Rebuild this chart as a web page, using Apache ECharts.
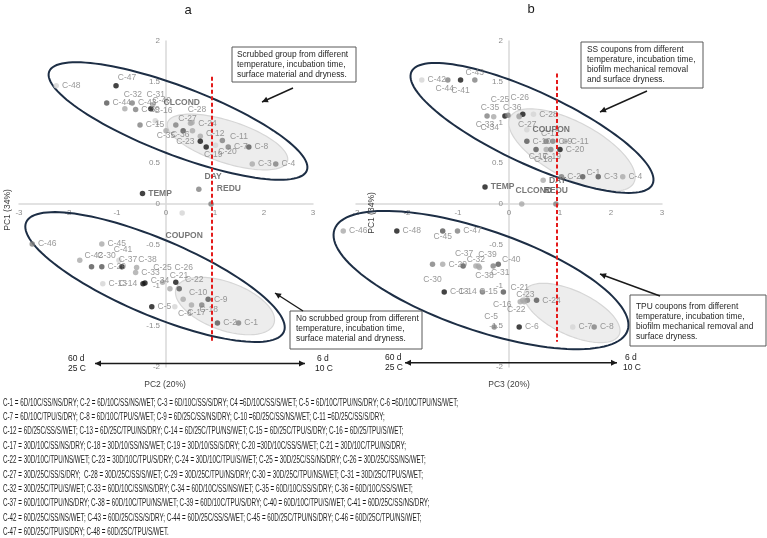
<!DOCTYPE html>
<html><head><meta charset="utf-8">
<script src="https://cdn.jsdelivr.net/npm/echarts@6/dist/echarts.min.js"></script>
<style>html,body{margin:0;padding:0;background:#fff}#c{width:767px;height:538px}</style>
</head><body><div id="c"></div>
<script>
// ================= DATA =================
// Panel a: PC2 (x) vs PC1 (y)
const leftSamples = ['C-48','C-47','C-44','C-43','C-32','C-39','C-40','C-31','C-15','C-16','C-35','C-36','C-27','C-28','C-24','C-12','C-23','C-19','C-20','C-11','C-7','C-8','C-3','C-4',
  'C-46','C-45','C-42','C-41','C-30','C-29','C-37','C-38','C-33','C-13','C-14','C-34','C-25','C-26','C-21','C-22','C-10','C-9','C-5','C-6','C-17','C-18','C-2','C-1'];
const leftPC2 = [-2.24,-1.02,-1.21,-0.69,-0.84,-0.62,-0.31,-0.27,-0.53,-0.22,0.00,0.35,0.50,0.53,0.54,0.70,0.70,0.82,1.01,1.15,1.27,1.69,1.76,2.24,
  -2.73,-1.31,-1.76,-0.96,-1.52,-1.31,-0.90,-0.60,-0.62,-1.29,-0.47,-0.43,-0.07,0.20,0.08,0.27,0.35,0.86,-0.29,0.18,0.52,0.73,1.05,1.48];
const leftPC1 = [1.45,1.45,1.24,1.24,1.17,1.16,1.17,1.22,0.97,1.02,0.90,0.90,0.99,1.00,0.90,0.83,0.77,0.70,0.72,0.78,0.70,0.70,0.49,0.49,
  -0.49,-0.49,-0.69,-0.69,-0.77,-0.77,-0.77,-0.78,-0.84,-0.98,-0.98,-0.97,-0.96,-0.96,-1.04,-1.04,-1.17,-1.17,-1.26,-1.26,-1.24,-1.24,-1.46,-1.46];
const leftVars = ['TEMP','DAY','REDU','COUPON','CLCOND'];
const leftVarPC2 = [-0.48,0.67,0.92,0.33,0.20];
const leftVarPC1 = [0.13,0.18,0.00,-0.11,0.97];
const leftCutPC2 = [0.94,0.94];
const leftCutPC1 = [1.56,-1.71];
const leftEllipsePC2 = [1.255,0.245,1.204,-0.224];
const leftEllipsePC1 = [0.761,1.018,-1.252,-0.896];

// Panel b: PC3 (x) vs PC1 (y)
const rightSamples = ['C-42','C-44','C-41','C-43','C-33','C-34','C-35','C-25','C-36','C-26','C-27','C-28','C-10','C-12','C-9','C-11','C-17','C-18','C-19','C-20','C-2','C-1','C-3','C-4',
  'C-46','C-48','C-45','C-47','C-30','C-29','C-37','C-32','C-39','C-38','C-31','C-40','C-13','C-14','C-15','C-21','C-23','C-24','C-16','C-22','C-5','C-6','C-7','C-8'];
const rightPC3 = [-1.71,-1.20,-0.95,-0.67,-0.43,-0.30,-0.08,-0.02,0.20,0.27,0.20,0.48,0.35,0.73,0.86,1.10,0.53,0.73,0.82,1.00,1.03,1.445,1.75,2.23,
  -3.25,-2.20,-1.30,-1.01,-1.50,-1.30,-0.90,-0.65,-0.60,-0.58,-0.31,-0.21,-1.27,-0.52,-0.11,0.27,0.36,0.54,0.22,0.30,-0.29,0.20,1.25,1.67];
const rightPC1 = [1.52,1.52,1.52,1.52,1.08,1.07,1.08,1.09,1.08,1.10,1.07,1.10,0.77,0.77,0.77,0.77,0.67,0.67,0.67,0.67,0.335,0.335,0.335,0.335,
  -0.33,-0.33,-0.33,-0.33,-0.74,-0.74,-0.76,-0.76,-0.76,-0.78,-0.76,-0.74,-1.08,-1.08,-1.08,-1.18,-1.18,-1.18,-1.20,-1.20,-1.51,-1.51,-1.51,-1.51];
const rightVars = ['TEMP','DAY','REDU','COUPON','CLCOND'];
const rightVarPC3 = [-0.47,0.67,0.92,0.35,0.25];
const rightVarPC1 = [0.21,0.29,0.00,0.91,0.00];
const rightCutPC3 = [0.935,0.935];
const rightCutPC1 = [1.60,-1.69];
const rightEllipsePC3 = [1.235,0.451,1.235,-0.549];
const rightEllipsePC1 = [0.663,0.933,-1.337,-0.933];

const xTickMin = -3, xTickMax = 3, xTickStep = 1;
const yTickMin = -2, yTickMax = 2, yTickStep = 0.5;

const footerLines = [
 'C-1 = 6D/10C/SS/NS/DRY; C-2 = 6D/10C/SS/NS/WET; C-3 = 6D/10C/SS/S/DRY; C4 =6D/10C/SS/S/WET; C-5 = 6D/10C/TPU/NS/DRY; C-6 =6D/10C/TPU/NS/WET;',
 'C-7 = 6D/10C/TPU/S/DRY; C-8 = 6D/10C/TPU/S/WET; C-9 = 6D/25C/SS/NS/DRY; C-10 =6D/25C/SS/NS/WET; C-11 =6D/25C/SS/S/DRY;',
 'C-12 = 6D/25C/SS/S/WET; C-13 = 6D/25C/TPU/NS/DRY; C-14 = 6D/25C/TPU/NS/WET; C-15 = 6D/25C/TPU/S/DRY; C-16 = 6D/25/TPU/S/WET;',
 'C-17 = 30D/10C/SS/NS/DRY; C-18 = 30D/10/SS/NS/WET; C-19 = 30D/10/SS/S/DRY; C-20 =30D/10C/SS/S/WET; C-21 = 30D/10C/TPU/NS/DRY;',
 'C-22 = 30D/10C/TPU/NS/WET; C-23 = 30D/10C/TPU/S/DRY; C-24 = 30D/10C/TPU/S/WET; C-25 = 30D/25C/SS/NS/DRY; C-26 = 30D/25C/SS/NS/WET;',
 'C-27 = 30D/25C/SS/S/DRY;  C-28 = 30D/25C/SS/S/WET; C-29 = 30D/25C/TPU/NS/DRY; C-30 = 30D/25C/TPU/NS/WET; C-31 = 30D/25C/TPU/S/WET;',
 'C-32 = 30D/25C/TPU/S/WET; C-33 = 60D/10C/SS/NS/DRY; C-34 = 60D/10C/SS/NS/WET; C-35 = 60D/10C/SS/S/DRY; C-36 = 60D/10C/SS/S/WET;',
 'C-37 = 60D/10C/TPU/NS/DRY; C-38 = 60D/10C/TPU/NS/WET; C-39 = 60D/10C/TPU/S/DRY; C-40 = 60D/10C/TPU/S/WET; C-41 = 60D/25C/SS/NS/DRY;',
 'C-42 = 60D/25C/SS/NS/WET; C-43 = 60D/25C/SS/S/DRY; C-44 = 60D/25C/SS/S/WET; C-45 = 60D/25C/TPU/NS/DRY; C-46 = 60D/25C/TPU/NS/WET;',
 'C-47 = 60D/25C/TPU/S/DRY; C-48 = 60D/25C/TPU/S/WET.'
];

// ================= STYLE =================
const SH = {k:'#141414', d:'#555555', m:'#7f7f7f', l:'#a9a9a9', v:'#d4d4d4'};
const leftShade = {'C-48':'v','C-47':'k','C-44':'d','C-43':'m','C-32':'l','C-39':'m','C-40':'k','C-31':'l','C-15':'m','C-16':'v','C-35':'l','C-36':'d','C-27':'l','C-28':'l','C-24':'l','C-12':'l','C-23':'k','C-19':'k','C-20':'v','C-11':'m','C-7':'m','C-8':'d','C-3':'l','C-4':'m',
 'C-46':'m','C-45':'l','C-42':'l','C-41':'v','C-30':'d','C-29':'d','C-37':'k','C-38':'l','C-33':'l','C-13':'v','C-14':'k','C-34':'k','C-25':'l','C-26':'k','C-21':'l','C-22':'d','C-10':'l','C-9':'d','C-5':'k','C-6':'v','C-17':'l','C-18':'m','C-2':'d','C-1':'m',
 'TEMP':'k','DAY':'m','REDU':'m','COUPON':'v','CLCOND':'m'};
const rightShade = {'C-42':'v','C-44':'m','C-41':'k','C-43':'m','C-33':'m','C-34':'l','C-35':'k','C-25':'m','C-36':'l','C-26':'k','C-27':'l','C-28':'v','C-10':'d','C-12':'m','C-9':'m','C-11':'l','C-17':'d','C-18':'l','C-19':'m','C-20':'k','C-2':'m','C-1':'d','C-3':'d','C-4':'l',
 'C-46':'l','C-48':'k','C-45':'d','C-47':'m','C-30':'m','C-29':'l','C-37':'d','C-32':'l','C-39':'l','C-38':'l','C-31':'m','C-40':'d','C-13':'k','C-14':'m','C-15':'d','C-21':'l','C-23':'m','C-24':'d','C-16':'l','C-22':'l','C-5':'m','C-6':'k','C-7':'v','C-8':'m',
 'TEMP':'k','DAY':'l','REDU':'m','COUPON':'v','CLCOND':'l'};
const leftLabel = {'C-47':['top',11,2],'C-32':['top',8,-4],'C-40':['right',-4,-8],'C-31':['top',3,0],'C-16':['top',8,0],'C-35':['bottom',0,-5],'C-36':['bottom',-3,-6],
 'C-27':['top',-3,6],'C-28':['top',5,-3],'C-24':['right',0,-7],'C-12':['right',0,-3],'C-23':['left',0,0],'C-19':['bottom',7,-3],'C-20':['bottom',12,-4],'C-11':['right',2,-4],
 'C-41':['top',4,0],'C-42':['right',-1,-5],'C-30':['right',0,-11],'C-37':['top',6,3],'C-38':['right',-4,-8],'C-14':['left',0,0],'C-34':['right',0,-2],'C-25':['top',0,-4],
 'C-26':['top',8,-4],'C-21':['top',9,-3],'C-22':['right',0,-9],'C-10':['right',0,-7],'C-6':['bottom',10,-3],'C-17':['bottom',5,-3],'C-18':['bottom',7,-6],
 'DAY':['right',0,-13],'REDU':['right',0,-15],'COUPON':['bottom',2,12],'CLCOND':['top',6,-12]};
const rightLabel = {'C-44':['bottom',-3,-2],'C-41':['bottom',0,0],'C-43':['top',0,3],'C-33':['bottom',-2,-2],'C-34':['bottom',-4,1],'C-35':['top',-15,2],'C-25':['top',-8,-5],
 'C-36':['top',-7,2],'C-26':['top',-3,-6],'C-27':['bottom',8,-2],'C-12':['top',4,3],'C-17':['bottom',2,-3],'C-18':['bottom',-3,0],'C-19':['bottom',1,-3],'C-1':['right',-2,-4],
 'C-45':['bottom',0,-4],'C-30':['bottom',0,5],'C-37':['top',1,-2],'C-32':['top',0,4],'C-39':['top',9,-1],'C-38':['bottom',5,-2],'C-31':['bottom',7,-4],'C-40':['right',-2,-5],
 'C-14':['left',0,0],'C-15':['left',0,0],'C-21':['top',-3,-2],'C-23':['top',-2,5],'C-16':['left',-3,3],'C-22':['bottom',-8,-2],'C-5':['top',-3,0],
 'CLCOND':['top',12,-3],'REDU':['top',0,-3]};
// ellipse shapes in pixels: semi-axes a,b, rotation deg, kind
const leftEllipseShape = [{a:63,b:21,r:18,k:'light'},{a:138,b:34,r:21,k:'dark'},{a:52,b:24,r:20,k:'light'},{a:140,b:38,r:23,k:'dark'}];
const rightEllipseShape = [{a:70,b:28,r:28,k:'light'},{a:133,b:36,r:25,k:'dark'},{a:52,b:22,r:25,k:'light'},{a:155,b:50,r:19,k:'dark'}];
const GRIDS = [{left:19, top:41, width:294, height:326},{left:356, top:41, width:306, height:326}];

const LBL_FONT = '"Liberation Sans Narrow","Liberation Sans",Arial,sans-serif';
const TXT_FONT = '"Liberation Sans",Arial,sans-serif';

function pointData(names, xs, ys, shade, lbl){
  return names.map((n,i)=>{
    const p = lbl[n] || ['right',0,0];
    return {name:n, value:[xs[i], ys[i]], itemStyle:{color:SH[shade[n]]},
      label:{position:p[0], offset:[p[1],p[2]]}};
  });
}
function ellipseSeries(gi, xs, ys, shapes){
  return {type:'custom', xAxisIndex:gi, yAxisIndex:gi, clip:false, z:1, silent:true,
    data: xs.map((x,i)=>[x, ys[i]]),
    renderItem:(params, api)=>{
      const c = api.coord([api.value(0), api.value(1)]);
      const e = shapes[params.dataIndex];
      const ph = e.r*Math.PI/180, pts=[];
      for(let i=0;i<120;i++){const t=i/120*2*Math.PI;
        pts.push([c[0]+e.a*Math.cos(t)*Math.cos(ph)-e.b*Math.sin(t)*Math.sin(ph),
                  c[1]+e.a*Math.cos(t)*Math.sin(ph)+e.b*Math.sin(t)*Math.cos(ph)]);}
      return {type:'polygon', shape:{points:pts},
        style: e.k==='light' ? {fill:'#ededed', stroke:'#d6d6d6', lineWidth:1.2}
                             : {fill:'none', stroke:'#1d2e45', lineWidth:2}};
    }};
}
function sampleSeries(gi, names, xs, ys, shade, lbl, cutX, cutY){
  return {type:'scatter', xAxisIndex:gi, yAxisIndex:gi, clip:false, z:3, symbolSize:5.5, silent:true,
    data: pointData(names, xs, ys, shade, lbl),
    label:{show:true, formatter:'{b}', color:'#808080', fontSize:8.5, fontFamily:LBL_FONT, distance:3},
    markLine:{silent:true, symbol:'none', label:{show:false}, z:4,
      lineStyle:{color:'#e41a1a', type:[4,2.5], width:2},
      data:[[{coord:[cutX[0],cutY[0]]},{coord:[cutX[1],cutY[1]]}]]}};
}
function varSeries(gi, names, xs, ys, shade, lbl){
  return {type:'scatter', xAxisIndex:gi, yAxisIndex:gi, clip:false, z:3, symbolSize:5.5, silent:true,
    data: pointData(names, xs, ys, shade, lbl),
    label:{show:true, formatter:'{b}', color:'#555555', fontSize:8.5, fontWeight:'bold', fontFamily:TXT_FONT, distance:3}};
}
// axes crossing at zero: shift the axes inward to the zero position of the other axis
function xAx(gi){
  const g = GRIDS[gi];
  return {type:'value', gridIndex:gi, min:xTickMin, max:xTickMax, interval:xTickStep, position:'bottom',
  offset: -g.height*(0-yTickMin)/(yTickMax-yTickMin),
  axisLine:{onZero:false, lineStyle:{color:'#d9d9d9', width:1.5}}, axisTick:{show:false}, splitLine:{show:false},
  axisLabel:{color:'#8c8c8c', fontSize:8, margin:5, fontFamily:TXT_FONT}};}
function yAx(gi){
  const g = GRIDS[gi];
  return {type:'value', gridIndex:gi, min:yTickMin, max:yTickMax, interval:yTickStep, position:'left',
  offset: -g.width*(0-xTickMin)/(xTickMax-xTickMin),
  axisLine:{onZero:false, lineStyle:{color:'#d9d9d9', width:1.5}}, axisTick:{show:false}, splitLine:{show:false},
  axisLabel:{color:'#8c8c8c', fontSize:8, margin:6, fontFamily:TXT_FONT}};}

// ---- annotation graphics ----
function arrowHead(x1,y1,x2,y2,len,hw){
  const a=Math.atan2(y2-y1,x2-x1), c=Math.cos(a), s=Math.sin(a);
  return {type:'polygon', shape:{points:[[x2,y2],[x2-len*c-hw*s,y2-len*s+hw*c],[x2-len*c+hw*s,y2-len*s-hw*c]]}, style:{fill:'#1a1a1a'}, z:10};
}
function arrow(x1,y1,x2,y2,both){
  const g=[{type:'line', shape:{x1,y1,x2,y2}, style:{stroke:'#1a1a1a', lineWidth:1.4}, z:10}, arrowHead(x1,y1,x2,y2,6,3)];
  if(both) g.push(arrowHead(x2,y2,x1,y1,6,3));
  return g;
}
function box(x,y,w,h,lines,tx,ty){
  return [{type:'rect', shape:{x,y,width:w,height:h}, style:{fill:'#fff', stroke:'#595959', lineWidth:1}, z:10},
    {type:'text', x:tx, y:ty, z:11, style:{text:lines.join('\n'), fontSize:8.4, lineHeight:10, fontFamily:TXT_FONT, fill:'#262626', verticalAlign:'top'}}];
}
function txt(x,y,t,opt){return Object.assign({type:'text', x, y, z:11, style:Object.assign({text:t, fontSize:8.5, fontFamily:TXT_FONT, fill:'#1a1a1a', verticalAlign:'middle'}, opt||{})});}

// footer scale to reference width
const cv=document.createElement('canvas').getContext('2d');
cv.font='10px "Liberation Sans"';
const footScale = 455 / cv.measureText(footerLines[0]).width;

let graphics = [];
graphics.push(txt(188,10,'a',{fontSize:13, textAlign:'center'}), txt(531,9,'b',{fontSize:13, textAlign:'center'}));
graphics.push(Object.assign(txt(8,210,'PC1 (34%)',{fontSize:8.5, textAlign:'center', fill:'#404040'}),{rotation:Math.PI/2}));
graphics.push(Object.assign(txt(372,213,'PC1 (34%)',{fontSize:8.5, textAlign:'center', fill:'#404040'}),{rotation:Math.PI/2}));
graphics.push(txt(165,385,'PC2 (20%)',{fontSize:8.5, textAlign:'center', fill:'#404040'}), txt(509,385,'PC3 (20%)',{fontSize:8.5, textAlign:'center', fill:'#404040'}));
graphics.push(...box(232,47,124,35,['Scrubbed group from different','temperature, incubation time,','surface material and dryness.'],237,50));
graphics.push(...arrow(293,88,262,102));
graphics.push(...box(290,311,132,38,['No scrubbed group from different','temperature, incubation time,','surface material and dryness.'],296,314));
graphics.push(...arrow(303,311,275,293));
graphics.push(...box(581,42,122,46,['SS coupons from different','temperature, incubation time,','biofilm mechanical removal','and surface dryness.'],587,45));
graphics.push(...arrow(647,91,600,112));
graphics.push(...box(630,295,136,51,['TPU coupons from different','temperature, incubation time,','biofilm mechanical removal and','surface dryness.'],636,302));
graphics.push(...arrow(660,296,600,274));
graphics.push(...arrow(95,363.5,305,363.5,true), ...arrow(405,362.7,617,362.7,true));
graphics.push(txt(68,359,'60 d'), txt(68,369,'25 C'), txt(317,359,'6 d'), txt(315,369,'10 C'));
graphics.push(txt(385,358,'60 d'), txt(385,368,'25 C'), txt(625,358,'6 d'), txt(623,368,'10 C'));
footerLines.forEach((l,i)=>{
  graphics.push({type:'text', x:3, y:403+i*14.35, scaleX:footScale, z:11,
    style:{text:l, fontSize:10, fontFamily:'"Liberation Sans"', fill:'#1f1f1f', verticalAlign:'middle'}});
});

const chart = echarts.init(document.getElementById('c'), null, {renderer:'canvas'});
chart.setOption({
  animation:false,
  backgroundColor:'#fff',
  grid: GRIDS,
  xAxis:[xAx(0), xAx(1)],
  yAxis:[yAx(0), yAx(1)],
  series:[
    ellipseSeries(0, leftEllipsePC2, leftEllipsePC1, leftEllipseShape),
    ellipseSeries(1, rightEllipsePC3, rightEllipsePC1, rightEllipseShape),
    sampleSeries(0, leftSamples, leftPC2, leftPC1, leftShade, leftLabel, leftCutPC2, leftCutPC1),
    varSeries(0, leftVars, leftVarPC2, leftVarPC1, leftShade, leftLabel),
    sampleSeries(1, rightSamples, rightPC3, rightPC1, rightShade, rightLabel, rightCutPC3, rightCutPC1),
    varSeries(1, rightVars, rightVarPC3, rightVarPC1, rightShade, rightLabel)
  ],
  graphic: graphics
});
</script></body></html>
